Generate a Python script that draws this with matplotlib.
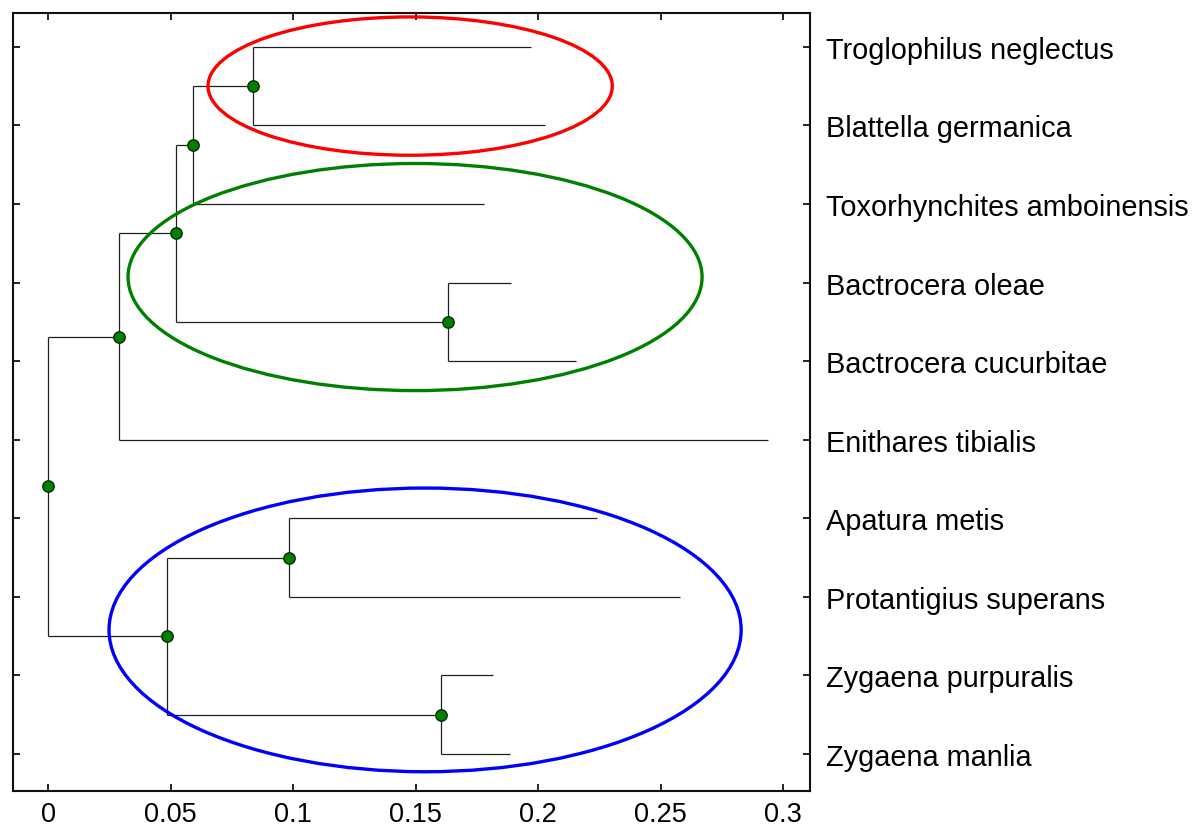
import matplotlib
matplotlib.use("Agg")
import matplotlib.pyplot as plt
from matplotlib.patches import Ellipse

plt.rcParams['font.family'] = ['Liberation Sans', 'DejaVu Sans']

# Leaves, top to bottom, with their branch-tip distances
leaf_names = [
    "Troglophilus neglectus",
    "Blattella germanica",
    "Toxorhynchites amboinensis",
    "Bactrocera oleae",
    "Bactrocera cucurbitae",
    "Enithares tibialis",
    "Apatura metis",
    "Protantigius superans",
    "Zygaena purpuralis",
    "Zygaena manlia",
]
leaf_dist = [0.197, 0.203, 0.178, 0.189, 0.2155, 0.294, 0.224, 0.258, 0.1816, 0.1886]

# Internal nodes: (name, distance, children); leaves are referenced by index,
# internal nodes by name. Listed so children always come before parents.
node_names = ["E", "C", "D", "B", "A", "G", "H", "F", "root"]
node_dist = [0.0837, 0.0592, 0.1632, 0.0522, 0.029, 0.0984, 0.1604, 0.0486, 0.0]
node_children = [
    [0, 1],
    ["E", 2],
    [3, 4],
    ["C", "D"],
    ["B", 5],
    [6, 7],
    [8, 9],
    ["G", "H"],
    ["A", "F"],
]

# Clade outlines: centre x, centre y, width, height, colour
clade_cx = [0.1478, 0.1498, 0.1539]
clade_cy = [1.50, 3.93, 8.42]
clade_w = [0.165, 0.2343, 0.258]
clade_h = [1.76, 2.89, 3.61]
clade_colors = ["#ff0000", "#008000", "#0000ff"]

x_ticks = [0, 0.05, 0.1, 0.15, 0.2, 0.25, 0.3]
x_tick_labels = ["0", "0.05", "0.1", "0.15", "0.2", "0.25", "0.3"]

fig = plt.figure(figsize=(11.98, 8.29), dpi=100)
ax = fig.add_axes([13 / 1198, 37 / 829, (810 - 13) / 1198, (792 - 14) / 829])

pos = {}
for i, d in enumerate(leaf_dist):
    pos[i] = (d, i + 1)

branch_kw = dict(color="#202020", lw=0.9, solid_capstyle="butt", zorder=2)
for name, d, kids in zip(node_names, node_dist, node_children):
    ys = [pos[k][1] for k in kids]
    y = sum(ys) / len(ys)
    pos[name] = (d, y)
    ax.plot([d, d], [min(ys), max(ys)], **branch_kw)
    for k in kids:
        kx, ky = pos[k]
        ax.plot([d, kx], [ky, ky], **branch_kw)

for name in node_names:
    x, y = pos[name]
    ax.plot(x, y, "o", ms=8.2, mfc="#008000", mec="#0b2b0b", mew=1.0, zorder=4)

for cx, cy, w, h, c in zip(clade_cx, clade_cy, clade_w, clade_h, clade_colors):
    ax.add_patch(Ellipse((cx, cy), w, h, fill=False, ec=c, lw=2.4, zorder=3))

ax.set_xlim(-0.0143, 0.311)
ax.set_ylim(10.47, 0.57)

ax.set_xticks(x_ticks)
ax.set_xticklabels(x_tick_labels, fontsize=19.5)
ax.set_yticks(range(1, len(leaf_names) + 1))
ax.set_yticklabels(leaf_names, fontsize=20.8)
ax.tick_params(axis="x", direction="in", top=True, bottom=True, length=5, width=1.2, pad=7)
ax.tick_params(axis="y", direction="in", left=True, right=True, labelleft=False,
               labelright=True, length=5, width=1.2, pad=11.5)
for s in ax.spines.values():
    s.set_linewidth(1.5)
    s.set_color("#101010")

fig.savefig("out.png", dpi=100)
